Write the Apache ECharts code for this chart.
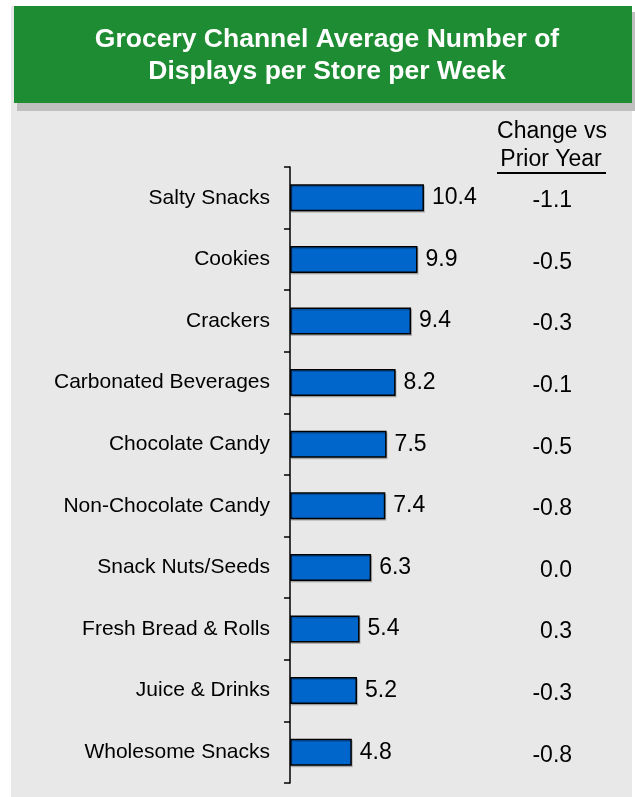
<!DOCTYPE html>
<html>
<head>
<meta charset="utf-8">
<script src="https://cdn.jsdelivr.net/npm/echarts@6/dist/echarts.min.js"></script>
<style>html,body{margin:0;padding:0;background:#fff;}#c{width:635px;height:797px;}</style>
</head>
<body>
<div id="c"></div>
<script>
const categories = ["Salty Snacks","Cookies","Crackers","Carbonated Beverages","Chocolate Candy","Non-Chocolate Candy","Snack Nuts/Seeds","Fresh Bread & Rolls","Juice & Drinks","Wholesome Snacks"];
const displays = [10.4, 9.9, 9.4, 8.2, 7.5, 7.4, 6.3, 5.4, 5.2, 4.8];
const changeVsPY = ["-1.1","-0.5","-0.3","-0.1","-0.5","-0.8","0.0","0.3","-0.3","-0.8"];
const changeColumnX = 21.9; // x-position (axis units) where change column is anchored
const titleText = "Grocery Channel Average Number of\nDisplays per Store per Week";

const FONT = "'Liberation Sans', Arial, sans-serif";
const chart = echarts.init(document.getElementById('c'), null, {renderer:'canvas'});
chart.setOption({
  backgroundColor: '#ffffff',
  animation: false,
  graphic: [
    {type:'rect', z:-10, shape:{x:11, y:6, width:621, height:791}, style:{fill:'#e8e8e8'}},
    {type:'rect', z:-9, shape:{x:17, y:12, width:618, height:99}, style:{fill:'#bfbfbf'}},
    {type:'rect', z:-8, shape:{x:14, y:6, width:618, height:97}, style:{fill:'#1e8c32'}},
    {type:'text', z:5, x:327, y:56, style:{text:titleText, fill:'#ffffff', font:'bold 26.5px ' + FONT, align:'center', verticalAlign:'middle', lineHeight:32}},
    {type:'text', z:5, x:552, y:132, style:{text:'Change vs', fill:'#000', font:'23px ' + FONT, align:'center', verticalAlign:'middle'}},
    {type:'text', z:5, x:551, y:160, style:{text:'Prior Year', fill:'#000', font:'23px ' + FONT, align:'center', verticalAlign:'middle'}},
    {type:'line', z:5, shape:{x1:497, y1:173, x2:606, y2:173}, style:{stroke:'#000', lineWidth:2}}
  ],
  grid: {left:290, top:167, width:322, height:616, containLabel:false},
  xAxis: {type:'value', min:0, max:25, show:false},
  yAxis: {
    type:'category', data:categories, inverse:true,
    axisLine:{show:true, lineStyle:{color:'#000', width:1.5}},
    axisTick:{show:true, length:6, lineStyle:{color:'#000', width:1.5}},
    axisLabel:{color:'#000', fontSize:21, fontFamily:FONT, margin:20},
    splitLine:{show:false}
  },
  series: [
    {
      type:'bar', data:displays, barWidth:27,
      itemStyle:{color:'#0066cc', borderColor:'#000', borderWidth:1.5, shadowColor:'rgba(0,0,0,0.2)', shadowOffsetX:1, shadowOffsetY:1.5, shadowBlur:0},
      label:{show:true, position:'right', distance:8, color:'#000', fontSize:23, fontFamily:FONT, formatter:p=>p.value.toFixed(1)}
    },
    {
      type:'scatter', symbolSize:0, silent:true,
      itemStyle:{opacity:1},
      data: changeVsPY.map((v,i)=>[changeColumnX, categories[i], v]),
      label:{show:true, position:'inside', align:'right', offset:[0,3], color:'#000', opacity:1, fontSize:23, fontFamily:FONT, formatter:p=>p.value[2]}
    }
  ]
});
</script>
</body>
</html>
